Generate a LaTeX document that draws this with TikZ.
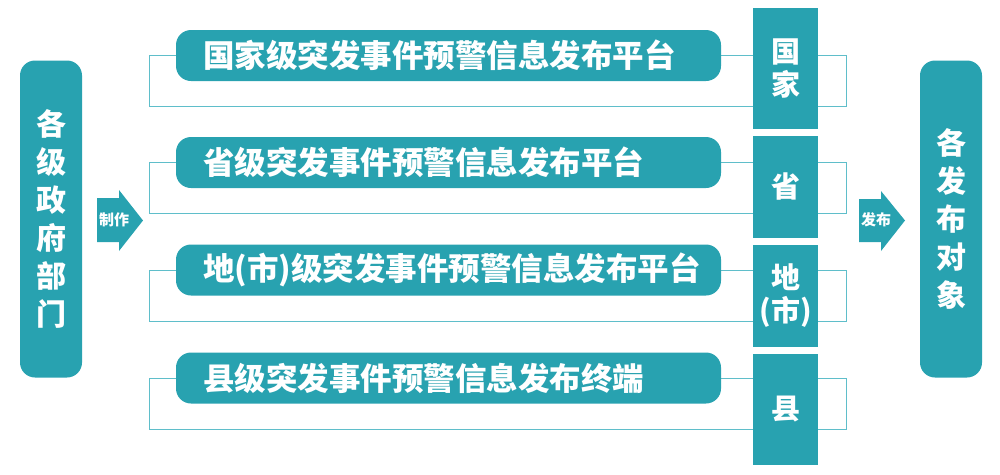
\documentclass[tikz,border=0pt]{standalone}
\usepackage{fontspec}
\newfontfamily\cjk{Noto Sans CJK SC}
\usepackage{xcolor}
\definecolor{lake}{RGB}{40,162,176}
\definecolor{lakeline}{RGB}{95,190,202}
\usepackage{tikz}
\usetikzlibrary{positioning}
\usetikzlibrary{backgrounds}

\begin{document}
\begin{tikzpicture}[x=1pt,y=-1pt,
  sidebox/.style={fill=lake,rounded corners=15pt,text=white,inner sep=0pt,align=center,minimum width=62pt,minimum height=317pt,font=\cjk\bfseries\fontsize{30}{38}\selectfont},
  platform/.style={fill=lake,rounded corners=15pt,text=white,inner xsep=27pt,inner ysep=0pt,text width=491pt,align=left,minimum height=51pt,font=\cjk\bfseries\fontsize{31.5}{34}\selectfont},
  level/.style={fill=lake,text=white,inner sep=0pt,align=center,minimum width=65pt,font=\cjk\bfseries\fontsize{29}{33}\selectfont},
  tag/.style={text=white,inner sep=0pt,font=\cjk\bfseries\fontsize{15}{15}\selectfont},
  bracket/.style={draw=lakeline,line width=1pt}]
\useasboundingbox (0,0) rectangle (1000,474);

\node[sidebox] (makers) at (51,219) {各\\级\\政\\府\\部\\门};
\node[sidebox] (targets) at (951,219) {各\\发\\布\\对\\象};

\node[platform] (r1) at (448.5,55.5) {国家级突发事件预警信息发布平台};
\node[platform] (r2) at (448.5,162.5) {省级突发事件预警信息发布平台};
\node[platform] (r3) at (448.5,270) {地(市)级突发事件预警信息发布平台};
\node[platform] (r4) at (448.5,378) {县级突发事件预警信息发布终端};

\node[level,minimum height=121pt] (c1) at (785.5,68.5) {国\\家};
\node[level,minimum height=102pt] (c2) at (785.5,187) {省};
\node[level,minimum height=102pt] (c3) at (785.5,296) {地\\(市)};
\node[level,minimum height=111pt] (c4) at (785.5,409.5) {县};

\fill[lake] (97,198) -- (119,198) -- (119,190) -- (143,220.5) -- (119,251) -- (119,242) -- (97,242) -- cycle;
\node[tag] (make) at (114,220) {制作};
\fill[lake] (859,199) -- (881,199) -- (881,191) -- (905,220.5) -- (881,251) -- (881,242) -- (859,242) -- cycle;
\node[tag] (issue) at (876,220) {发布};

\begin{pgfonlayer}{background}
\foreach \i in {1,...,4}{
  \draw[bracket] (r\i.west) -- ++(-26,0) -- ++(0,51) -| ([xshift=28pt]c\i.east |- r\i.west) -- (c\i.east |- r\i.west);
  \draw[bracket] (r\i.east) -- (c\i.west |- r\i.east);
}
\end{pgfonlayer}
\end{tikzpicture}
\end{document}
